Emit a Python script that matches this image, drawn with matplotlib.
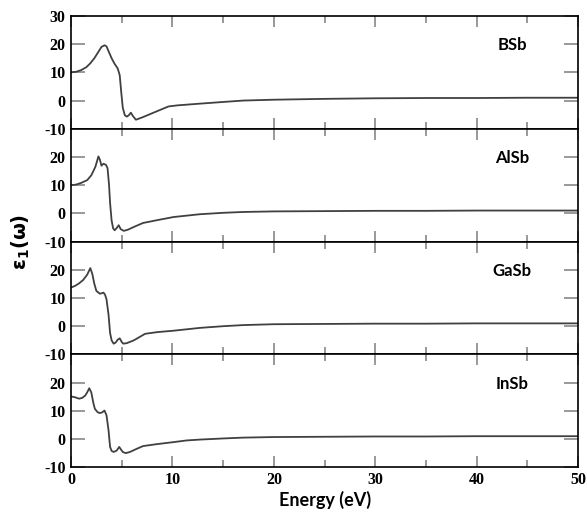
import numpy as np
import matplotlib
matplotlib.use("Agg")
import matplotlib.pyplot as plt
from matplotlib.ticker import MultipleLocator

plt.rcParams['axes.unicode_minus'] = False

# eps1(omega), energy in eV
bsb_e = [0, 0.5, 1.0, 1.5, 1.9, 2.3, 2.7, 3.0, 3.3, 3.5, 3.7, 4.0, 4.3, 4.6, 4.8, 4.95, 5.1, 5.3, 5.5, 5.7, 5.9, 6.1, 6.4, 7.0, 8.0, 9.0, 9.6, 10.5, 12.7, 15, 17, 20, 25, 30, 35, 40, 45, 50]
bsb_v = [10.0, 10.2, 10.8, 11.8, 13.2, 15.0, 17.3, 19.0, 19.6, 19.2, 17.5, 15.0, 13.0, 11.4, 9.0, 3.0, -2.5, -5.2, -5.7, -5.2, -4.3, -5.5, -6.8, -6.0, -4.5, -3.0, -2.1, -1.7, -1.1, -0.5, 0.0, 0.3, 0.6, 0.8, 0.9, 0.9, 1.0, 1.0]

alsb_e = [0, 0.5, 1.0, 1.6, 2.0, 2.4, 2.7, 2.85, 3.0, 3.2, 3.45, 3.6, 3.75, 3.85, 4.0, 4.15, 4.3, 4.5, 4.7, 4.9, 5.2, 5.6, 6.2, 7.1, 8.5, 10.1, 12.7, 15, 17, 20, 25, 30, 35, 40, 45, 50]
alsb_v = [10.0, 10.2, 10.8, 11.8, 13.5, 16.5, 20.2, 19.0, 16.9, 17.6, 17.2, 16.0, 10.0, 3.7, -2.5, -5.3, -6.0, -5.2, -4.2, -5.6, -6.2, -5.8, -4.8, -3.4, -2.4, -1.3, -0.3, 0.2, 0.5, 0.7, 0.8, 0.9, 0.9, 1.0, 1.0, 1.0]

gasb_e = [0, 0.4, 0.8, 1.2, 1.6, 1.9, 2.1, 2.3, 2.5, 2.85, 3.2, 3.35, 3.5, 3.7, 3.85, 4.0, 4.2, 4.4, 4.6, 4.8, 5.0, 5.15, 5.5, 6.2, 7.3, 8.5, 10.1, 12.7, 15, 17, 20, 25, 30, 35, 40, 45, 50]
gasb_v = [13.7, 14.3, 15.2, 16.4, 18.3, 20.6, 18.5, 15.0, 12.5, 11.5, 11.9, 11.2, 9.5, 4.0, -2.4, -5.0, -6.2, -5.8, -4.8, -4.3, -5.6, -6.2, -6.0, -5.0, -2.7, -2.1, -1.6, -0.6, 0.0, 0.4, 0.7, 0.8, 0.9, 0.9, 1.0, 1.0, 1.0]

insb_e = [0, 0.4, 0.8, 1.1, 1.4, 1.6, 1.8, 2.0, 2.2, 2.35, 2.6, 2.8, 3.05, 3.3, 3.5, 3.7, 3.85, 4.0, 4.2, 4.5, 4.75, 4.9, 5.1, 5.4, 5.8, 6.4, 7.1, 8.5, 10.1, 11.4, 12.7, 15, 17, 20, 25, 30, 35, 40, 45, 50]
insb_v = [15.1, 14.8, 14.3, 14.6, 15.4, 16.6, 18.0, 16.5, 12.8, 10.7, 9.6, 9.2, 9.4, 10.1, 8.4, 3.0, -2.8, -4.2, -4.6, -4.1, -2.8, -3.6, -4.6, -5.0, -4.6, -3.6, -2.5, -1.8, -1.1, -0.5, -0.2, 0.2, 0.5, 0.7, 0.8, 0.9, 0.9, 1.0, 1.0, 1.0]

names = ['BSb', 'AlSb', 'GaSb', 'InSb']
energies = [bsb_e, alsb_e, gasb_e, insb_e]
values = [bsb_v, alsb_v, gasb_v, insb_v]

serif = {'family': 'Liberation Serif', 'weight': 'bold', 'size': 11.5}

fig, axes = plt.subplots(4, 1, figsize=(5.87, 5.14), dpi=100, sharex=True)
fig.subplots_adjust(left=0.121, right=0.985, top=0.969, bottom=0.091, hspace=0)

for i, ax in enumerate(axes):
    ax.plot(energies[i], values[i], color='#404040', lw=1.3)
    ax.set_xlim(0, 50)
    ax.set_ylim(-10, 30)
    if i == 0:
        ax.set_yticks([-10, 0, 10, 20, 30])
    else:
        ax.set_yticks([-10, 0, 10, 20])
    ax.xaxis.set_major_locator(MultipleLocator(10))
    ax.xaxis.set_minor_locator(MultipleLocator(5))
    ax.tick_params(axis='both', which='both', direction='in', color='#888888',
                   top=True, right=True, width=1.2)
    ax.tick_params(axis='y', which='major', length=10, pad=4)
    ax.tick_params(axis='x', which='major', length=8)
    ax.tick_params(axis='x', which='minor', length=5)
    for lab in ax.get_yticklabels() + ax.get_xticklabels():
        lab.set_fontproperties(serif)
    for sp in ax.spines.values():
        sp.set_linewidth(1.2)
    ax.text(0.87, 0.74, names[i], transform=ax.transAxes, ha='center', va='center',
            fontsize=12, fontweight='bold', family='Lato')

axes[-1].set_xlabel('Energy (eV)', fontsize=13, fontweight='bold', family='Lato', labelpad=2)
fig.text(0.035, 0.53, r'$\mathbf{\varepsilon_1(\omega)}$', rotation=90, ha='center', va='center',
         fontsize=14)

fig.savefig('out.png', dpi=100)
